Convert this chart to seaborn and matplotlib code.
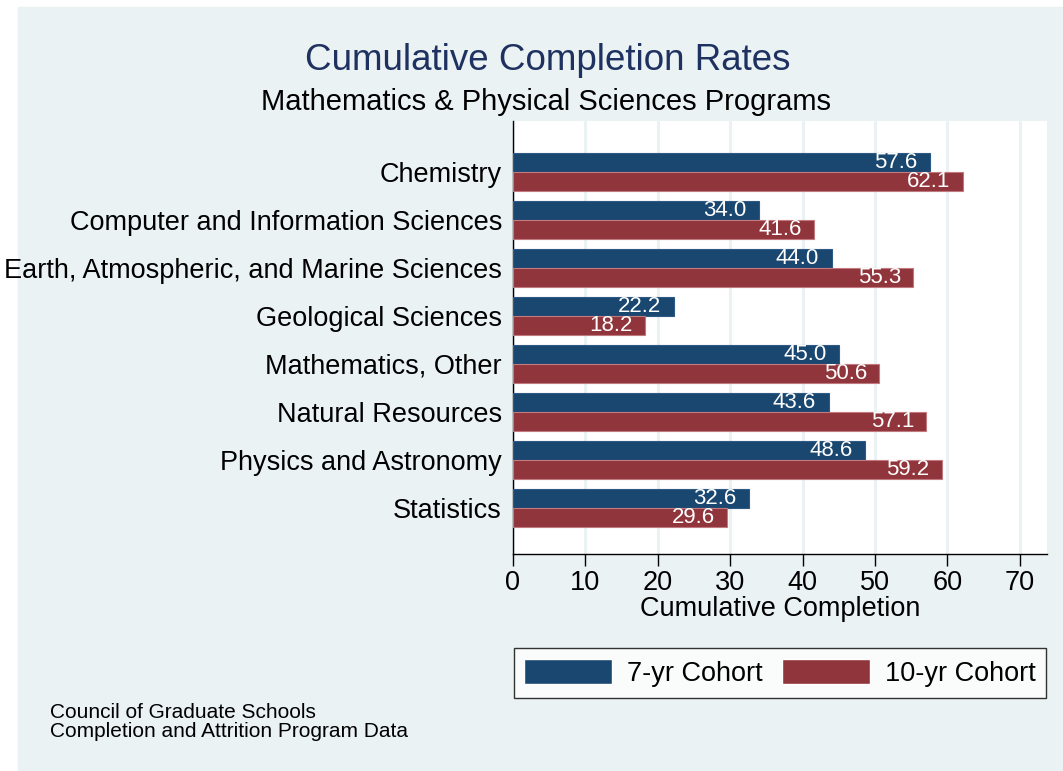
import pandas as pd
import seaborn as sns
import matplotlib.pyplot as plt
from matplotlib.patches import Rectangle

programs = [
    "Chemistry",
    "Computer and Information Sciences",
    "Earth, Atmospheric, and Marine Sciences",
    "Geological Sciences",
    "Mathematics, Other",
    "Natural Resources",
    "Physics and Astronomy",
    "Statistics",
]
cohort_7yr = [57.6, 34.0, 44.0, 22.2, 45.0, 43.6, 48.6, 32.6]
cohort_10yr = [62.1, 41.6, 55.3, 18.2, 50.6, 57.1, 59.2, 29.6]
cohorts = ["7-yr Cohort", "10-yr Cohort"]
x_ticks = [0, 10, 20, 30, 40, 50, 60, 70]

BG = "#eaf2f3"
NAVY = "#1a476f"
MAROON = "#90353b"

sns.set_style("white")
plt.rcParams["font.family"] = ["Liberation Sans", "DejaVu Sans"]
plt.rcParams["text.color"] = "black"
plt.rcParams["xtick.color"] = "black"
plt.rcParams["ytick.color"] = "black"
plt.rcParams["axes.labelcolor"] = "black"

df = pd.DataFrame(
    {
        "Program": programs * 2,
        "Completion": cohort_7yr + cohort_10yr,
        "Cohort": [cohorts[0]] * len(programs) + [cohorts[1]] * len(programs),
    }
)

fig = plt.figure(figsize=(10.63, 7.71), dpi=100, facecolor="white")
fig.patches.append(
    Rectangle((18 / 1063, 0), 1 - 18 / 1063, 764 / 771,
              transform=fig.transFigure, color=BG, zorder=-10)
)
ax = fig.add_axes([513 / 1063, 217 / 771, 534 / 1063, 433 / 771])
ax.set_facecolor("white")

sns.barplot(
    data=df,
    x="Completion",
    y="Program",
    hue="Cohort",
    hue_order=cohorts,
    palette={cohorts[0]: NAVY, cohorts[1]: MAROON},
    width=0.8,
    saturation=1,
    ax=ax,
    legend=False,
    zorder=3,
)

for container, edge in zip(ax.containers, ["#2d5a84", "#c07a7f"]):
    for p in container:
        p.set_edgecolor(edge)
        p.set_linewidth(0.8)
    labels = ax.bar_label(container, fmt="%.1f", padding=-9, color="white",
                          fontsize=16)
    for t in labels:
        t.set_ha("right")

ax.set_xlim(0, 73.75)
ax.set_ylim(7.96, -1.06)
ax.set_xticks(x_ticks)
ax.xaxis.grid(True, color=BG, linewidth=2.2, zorder=0)
ax.yaxis.grid(False)
ax.set_axisbelow(True)

for s in ["top", "right"]:
    ax.spines[s].set_visible(False)
for s in ["left", "bottom"]:
    ax.spines[s].set_color("black")
    ax.spines[s].set_linewidth(1.0)

ax.tick_params(axis="x", direction="out", length=8.5, width=1, color="black",
               labelsize=19.5, pad=3, bottom=True)
ax.tick_params(axis="y", length=0, labelsize=19.5, pad=8)
ax.set_xlabel("Cumulative Completion", fontsize=19.5, labelpad=0)
ax.set_ylabel("")

fig.text(0.515, 0.922, "Cumulative Completion Rates", ha="center", va="center",
         fontsize=26.5, color="#1e3160")
fig.text(0.514, 0.868, "Mathematics & Physical Sciences Programs", ha="center",
         va="center", fontsize=21, color="black")

handles = [Rectangle((0, 0), 1, 1, facecolor=c) for c in [NAVY, MAROON]]
leg = fig.legend(
    handles, cohorts, loc="center", bbox_to_anchor=(780 / 1063, 98 / 771),
    ncol=2, fontsize=19.5, frameon=True, fancybox=False, shadow=False,
    handlelength=3.25, handleheight=1.05, handletextpad=0.55, columnspacing=0.7,
    borderpad=0.4, borderaxespad=0,
)
leg.get_frame().set_edgecolor("black")
leg.get_frame().set_linewidth(1.0)
leg.get_frame().set_facecolor("white")

fig.text(50 / 1063, 49 / 771, "Council of Graduate Schools\nCompletion and Attrition Program Data",
         ha="left", va="center", fontsize=15, linespacing=1.05)

fig.savefig("out.png", dpi=100, facecolor=fig.get_facecolor())
